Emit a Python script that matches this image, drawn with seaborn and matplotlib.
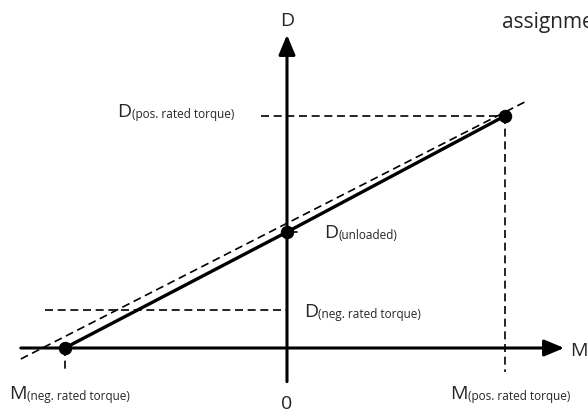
import matplotlib
matplotlib.use("Agg")
import matplotlib.pyplot as plt
import seaborn as sns
import pandas as pd

# operating points (torque M, value D) in schematic units
point_names = ["neg. rated torque", "unloaded", "pos. rated torque"]
torque = [-1.01, 0.0, 0.99]
d_value = [0.0, 1.0, 2.0]

# dashed reference line (ideal characteristic)
ref_torque = [-1.21, 1.08]
ref_d = [-0.095, 2.12]

# dashed helper line levels
d_neg_level = 0.33
d_neg_start = -1.10
d_pos_start = -0.12
drop_bottom = -0.21

# axis extents
m_axis = [-1.21, 1.26]
d_axis = [-0.29, 2.70]

df = pd.DataFrame({"point": point_names, "M": torque, "D": d_value})

sns.set_style("white")
plt.rcParams["font.family"] = ["Open Sans", "DejaVu Sans"]

fig = plt.figure(figsize=(5.88, 4.12), dpi=100)
ax = fig.add_axes([0, 0, 1, 1])
ax.set_xlim(-1.3045, 1.3682)
ax.set_ylim(-0.5517, 3.0)
ax.axis("off")

dash_kw = dict(color="black", lw=1.2, dashes=(4.8, 2.8))

# reference dashed line
sns.lineplot(x=ref_torque, y=ref_d, ax=ax, **dash_kw)

# helper dashed lines
ax.plot([d_pos_start, torque[2]], [d_value[2], d_value[2]], **dash_kw)
ax.plot([d_neg_start, 0], [d_neg_level, d_neg_level], **dash_kw)
ax.plot([torque[0], torque[0]], [d_value[0], drop_bottom], **dash_kw)
ax.plot([torque[2], torque[2]], [d_value[2], drop_bottom], **dash_kw)

# axes with arrow heads
arrow = dict(arrowstyle="-|>,head_length=12,head_width=5", color="black",
             lw=2.2, shrinkA=0, shrinkB=0, mutation_scale=1)
ax.annotate("", xy=(m_axis[1], 0), xytext=(m_axis[0], 0), arrowprops=arrow)
ax.annotate("", xy=(0, d_axis[1]), xytext=(0, d_axis[0]), arrowprops=arrow)

# characteristic line and operating points
sns.lineplot(data=df, x="M", y="D", ax=ax, color="black", lw=2.4)
sns.scatterplot(data=df, x="M", y="D", ax=ax, color="black", s=80,
                edgecolor="black", zorder=5, legend=False)
ax.plot([0.025, 0.045], [d_value[1], d_value[1]], color="black", lw=1.2)


def label(x, y, big, small, ha="left"):
    t = ax.text(x, y, big, fontsize=14, va="baseline", ha=ha)
    ax.annotate(small, xy=(1, 0), xycoords=t, xytext=(0.3, 0),
                textcoords="offset points", fontsize=8.5,
                va="bottom", ha="left")


label(-0.77, 1.99, "D", "(pos. rated torque)")
label(0.168, 0.95, "D", "(unloaded)")
label(0.077, 0.27, "D", "(neg. rated torque)")
label(-1.262, -0.437, "M", "(neg. rated torque)")
label(0.741, -0.437, "M", "(pos. rated torque)")

ax.text(0, -0.525, "0", fontsize=14, ha="center", va="baseline")
ax.text(0, 2.78, "D", fontsize=14, ha="center", va="baseline")
ax.text(1.286, -0.07, "M", fontsize=14, ha="left", va="baseline")
ax.text(0.977, 2.76, "assignment", fontsize=15, ha="left", va="baseline")

fig.savefig("out.png", dpi=100)
